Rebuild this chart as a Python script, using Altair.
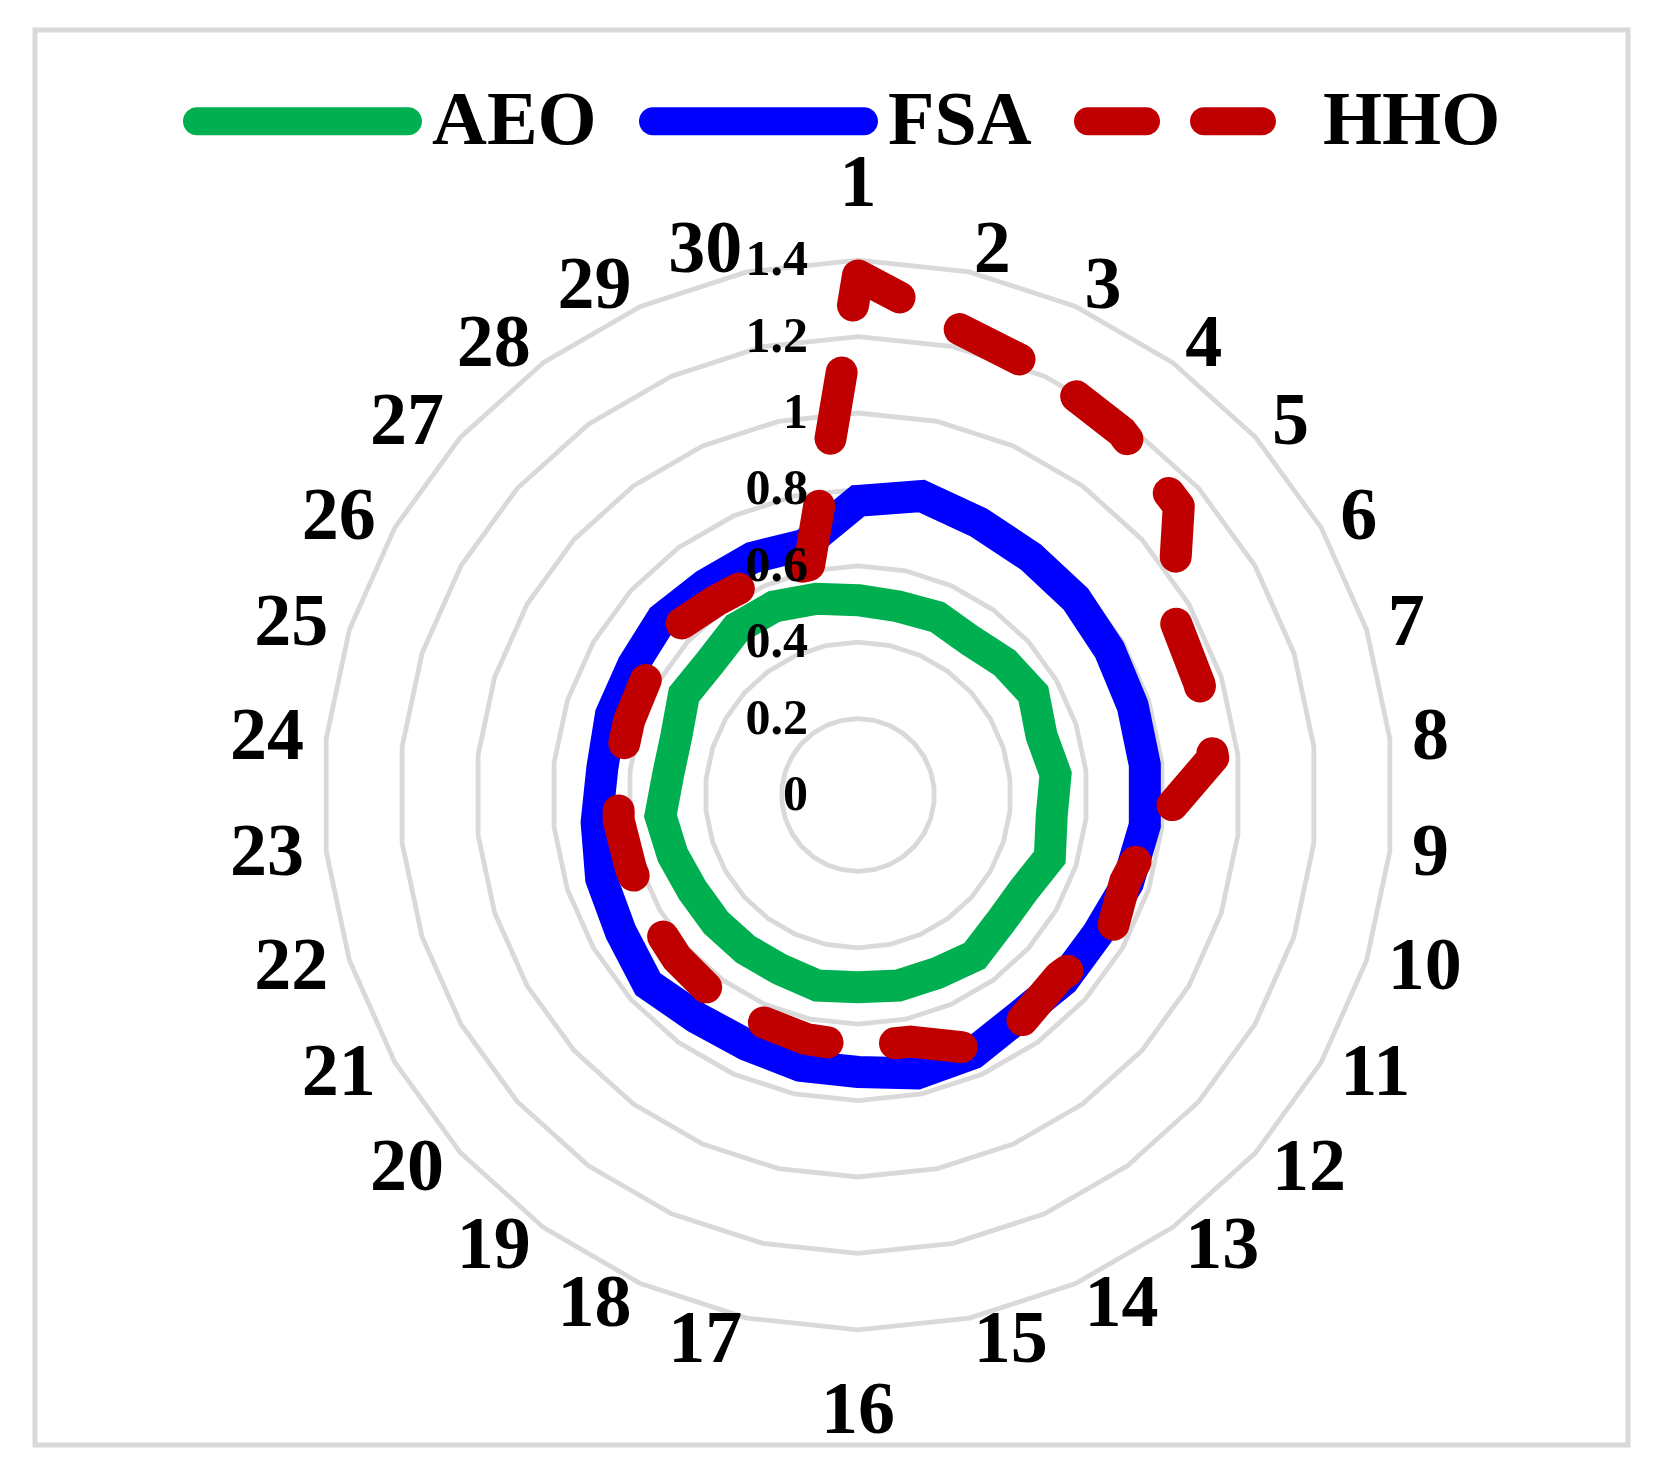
import altair as alt
import pandas as pd

# ---------------- data ----------------
categories = ["1", "2", "3", "4", "5", "6", "7", "8", "9", "10",
              "11", "12", "13", "14", "15", "16", "17", "18", "19", "20",
              "21", "22", "23", "24", "25", "26", "27", "28", "29", "30"]
aeo = [0.51, 0.505, 0.51, 0.50, 0.517, 0.53, 0.505, 0.52, 0.51, 0.528,
       0.50, 0.50, 0.52, 0.51, 0.51, 0.503, 0.51, 0.50, 0.50, 0.50,
       0.50, 0.51, 0.52, 0.50, 0.50, 0.526, 0.52, 0.54, 0.54, 0.525]
fsa = [0.77, 0.80, 0.78, 0.77, 0.767, 0.76, 0.756, 0.755, 0.755, 0.743,
       0.725, 0.724, 0.717, 0.74, 0.745, 0.725, 0.725, 0.716, 0.72, 0.74,
       0.717, 0.707, 0.688, 0.673, 0.68, 0.68, 0.69, 0.68, 0.68, 0.67]
hho = [1.36, 1.25, 1.21, 1.175, 1.13, 0.95, 0.94, 0.935, 0.78, 0.735,
       0.76, 0.71, 0.73, 0.725, 0.66, 0.66, 0.653, 0.645, 0.645, 0.638,
       0.63, 0.625, 0.63, 0.63, 0.63, 0.634, 0.65, 0.63, 0.625, 0.615]
series_names = ["AEO", "FSA", "HHO"]
series_colors = ["#00B050", "#0000FF", "#C00000"]
ring_values = [0.2, 0.4, 0.6, 0.8, 1.0, 1.2, 1.4]
tick_values = [0, 0.2, 0.4, 0.6, 0.8, 1.0, 1.2, 1.4]
tick_labels = ["0", "0.2", "0.4", "0.6", "0.8", "1", "1.2", "1.4"]

N = len(categories)

rows = []
for name, vals in zip(series_names, [aeo, fsa, hho]):
    for i, (c, v) in enumerate(zip(categories, vals)):
        rows.append({"series": name, "idx": i, "cat": c, "value": v})
series_df = pd.DataFrame(rows)
ring_df = pd.DataFrame([{"ring": r, "idx": i} for r in ring_values for i in range(N)])
cat_df = pd.DataFrame({"cat": categories, "idx": list(range(N))})
tick_df = pd.DataFrame({"label": tick_labels, "value": tick_values})
legend_df = pd.DataFrame({"series": series_names})

# ---------------- layout ----------------
FONT = "Liberation Serif"
W, H = 1593, 1415
PXU = 382.0            # pixels per data unit
CX, CY = 823.0, 765.0  # centre of the radar in plot coordinates
xscale = alt.Scale(domain=[-CX / PXU, (W - CX) / PXU], nice=False, zero=False)
yscale = alt.Scale(domain=[-(H - CY) / PXU, CY / PXU], nice=False, zero=False)
color_scale = alt.Scale(domain=series_names, range=series_colors)

ANG = f"2*PI*datum.idx/{N}"


def polar(chart, rfield):
    return chart.transform_calculate(ang=ANG).transform_calculate(
        px=f"{rfield}*sin(datum.ang)", py=f"{rfield}*cos(datum.ang)")


X = alt.X("px:Q", scale=xscale, axis=None)
Y = alt.Y("py:Q", scale=yscale, axis=None)

rings = polar(alt.Chart(ring_df), "datum.ring").mark_line(
    interpolate="linear-closed", stroke="#D9D9D9", strokeWidth=4.8
).encode(x=X, y=Y, detail="ring:N", order="idx:Q")

series_layers = []
for name, col in zip(series_names, series_colors):
    base = polar(alt.Chart(series_df), "datum.value").transform_filter(
        f"datum.series == '{name}'")
    if name == "HHO":
        mk = base.mark_line(interpolate="linear-closed", strokeWidth=32, stroke=col,
                            strokeJoin="round", strokeCap="round",
                            strokeDash=[67, 68], strokeDashOffset=20)
    else:
        mk = base.mark_line(interpolate="linear-closed", strokeWidth=32, stroke=col,
                            strokeJoin="miter")
    series_layers.append(mk.encode(x=X, y=Y, order="idx:Q"))

tick_text = alt.Chart(tick_df).transform_calculate(px="0", py="datum.value").mark_text(
    align="right", baseline="middle", dx=-50, font=FONT, fontSize=50,
    fontWeight="bold", color="black"
).encode(x=X, y=Y, text="label:N")

R_SIDE, R_TOP, R_BOT = 1.458, 1.542, 1.518
half = N // 2


def cat_layer(filt, r, align, baseline):
    return polar(alt.Chart(cat_df).transform_filter(filt), str(r)).mark_text(
        align=align, baseline=baseline, font=FONT, fontSize=74,
        fontWeight="bold", color="black"
    ).encode(x=X, y=Y, text="cat:N")


cat_right = cat_layer(f"datum.idx > 0 && datum.idx < {half}", R_SIDE, "left", "middle")
cat_left = cat_layer(f"datum.idx > {half}", R_SIDE, "right", "middle")
cat_top = cat_layer("datum.idx == 0", R_TOP, "center", "alphabetic")
cat_bot = cat_layer(f"datum.idx == {half}", R_BOT, "center", "top")

# legend symbols (capsule shaped strokes, the dashed one drawn as two capsules)
cap_solid = "M-0.883,-0.117H0.883A0.117,0.117,0,0,1,0.883,0.117H-0.883A0.117,0.117,0,0,1,-0.883,-0.117Z"
cap_dash = ("M-0.883,-0.117H-0.397A0.117,0.117,0,0,1,-0.397,0.117H-0.883A0.117,0.117,0,0,1,-0.883,-0.117Z"
            "M0.088,-0.117H0.573A0.117,0.117,0,0,1,0.573,0.117H0.088A0.117,0.117,0,0,1,0.088,-0.117Z")
leg = alt.Legend(
    orient="none", legendX=148, legendY=-28.5, direction="horizontal", title=None,
    labelFont=FONT, labelFontSize=76, labelFontWeight="bold", labelColor="black",
    labelLimit=600, labelOffset=10, columnPadding=42, padding=0,
    symbolSize=239 * 239, symbolStrokeWidth=0, symbolOpacity=1)
legend_layer = alt.Chart(legend_df).mark_point(filled=True, clip=True, strokeWidth=0, opacity=1).encode(
    x=alt.value(-900), y=alt.value(-900),
    color=alt.Color("series:N", scale=color_scale, legend=leg),
    shape=alt.Shape("series:N", scale=alt.Scale(domain=series_names,
                                                range=[cap_solid, cap_solid, cap_dash]),
                    legend=leg))

chart = alt.layer(
    rings, *series_layers, cat_right, cat_left, cat_top, cat_bot, tick_text, legend_layer
).properties(
    width=W, height=H,
    padding={"left": 27, "top": 22, "right": 20, "bottom": 20},
    autosize=alt.AutoSizeParams(type="none"),
    background="white",
).configure(
    font=FONT,
    view=alt.ViewConfig(stroke="#D9D9D9", strokeWidth=5),
)

chart.save("out.html", embed_options={"renderer": "svg", "actions": False})
